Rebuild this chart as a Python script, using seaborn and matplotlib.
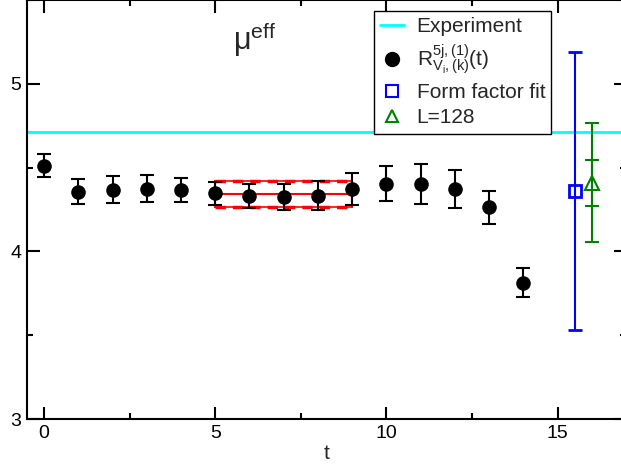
#!/usr/bin/env python3
"""
mu_eff plateau plot: ratio R(t) vs t with fit band and comparison points
"""

import numpy as np
import pandas as pd
import matplotlib
matplotlib.use('Agg')
import matplotlib.pyplot as plt
from matplotlib.ticker import MultipleLocator
from matplotlib.lines import Line2D
import seaborn as sns

# data
t_vals = [0, 1, 2, 3, 4, 5, 6, 7, 8, 9, 10, 11, 12, 13, 14]
r_vals = [4.512, 4.357, 4.369, 4.375, 4.367, 4.347, 4.331, 4.323, 4.333,
          4.371, 4.403, 4.400, 4.373, 4.262, 3.814]
r_errs = [0.070, 0.075, 0.080, 0.082, 0.073, 0.070, 0.070, 0.078, 0.088,
          0.095, 0.105, 0.120, 0.115, 0.100, 0.085]

fit_range = [5, 9]
fit_val = 4.341
fit_err = 0.077

experiment = 4.71

ff_t = 15.5
ff_val = 4.36
ff_err = 0.83

l128_t = 16.0
l128_val = 4.41
l128_err_outer = 0.354
l128_err_inner = 0.137

x_ticks = [0, 5, 10, 15]
y_ticks = [3, 4, 5]


def main():
    sns.set_theme(style='ticks')
    plt.rcParams['font.family'] = ['Liberation Sans', 'DejaVu Sans']
    plt.rcParams['mathtext.fontset'] = 'custom'
    plt.rcParams['mathtext.rm'] = 'Liberation Sans'
    plt.rcParams['mathtext.it'] = 'Liberation Sans:italic'

    fig = plt.figure(figsize=(6.21, 4.71), dpi=100)
    ax = fig.add_axes([27 / 621, 52 / 471, 599 / 621, 419 / 471])

    df = pd.DataFrame({'t': t_vals, 'R': r_vals, 'err': r_errs})

    # experiment line
    ax.axhline(experiment, color='cyan', lw=2, zorder=1)

    # fit band t=5..9
    x0, x1 = fit_range
    ax.plot([x0, x1], [fit_val, fit_val], color='red', lw=1.5, zorder=2)
    for yy in (fit_val - fit_err, fit_val + fit_err):
        ax.plot([x0, x1], [yy, yy], color='red', lw=1.2, zorder=2)
        ax.plot([x0, x1], [yy, yy], color='red', lw=2.5, ls=(0, (3, 2)), zorder=2)
    for xx in (x0, x1):
        ax.plot([xx, xx], [fit_val - fit_err, fit_val + fit_err], color='red', lw=1.5, zorder=2)

    # black data points
    ax.errorbar(df['t'], df['R'], yerr=df['err'], fmt='none', ecolor='black',
                elinewidth=1.5, capsize=5, capthick=1.5, zorder=3)
    sns.scatterplot(data=df, x='t', y='R', ax=ax, color='black', s=110,
                    edgecolor='black', linewidth=0, zorder=4, legend=False)

    # form factor fit
    ax.errorbar([ff_t], [ff_val], yerr=[ff_err], fmt='s', color='blue', mfc='none',
                mec='blue', ms=8, mew=2, elinewidth=1.5, capsize=5, capthick=1.5, zorder=4)

    # L=128
    ax.errorbar([l128_t], [l128_val], yerr=[l128_err_outer], fmt='none', ecolor='green',
                elinewidth=1.5, capsize=5, capthick=1.5, zorder=4)
    ax.errorbar([l128_t], [l128_val], yerr=[l128_err_inner], fmt='^', color='green', mfc='none',
                mec='green', ms=10, mew=1.5, elinewidth=1.5, capsize=5, capthick=1.5, zorder=4)

    ax.set_xlim(-0.5, 17)
    ax.set_ylim(3, 5.5)
    ax.set_xticks(x_ticks)
    ax.set_yticks(y_ticks)
    ax.xaxis.set_minor_locator(MultipleLocator(2.5))
    ax.yaxis.set_minor_locator(MultipleLocator(0.5))
    ax.tick_params(which='both', direction='in', top=True, right=True,
                   colors='black', labelsize=14, width=1.5)
    ax.tick_params(which='major', length=9, pad=4)
    ax.tick_params(which='minor', length=4.5)
    for sp in ax.spines.values():
        sp.set_visible(True)
        sp.set_color('black')
        sp.set_linewidth(1.5)

    ax.set_xlabel('t', fontsize=15, labelpad=2)
    ax.set_ylabel('')

    # panel label, placed in pixels from the top-left of the figure
    ax.text(233, 471 - 50, r'$\mathregular{μ^{eff}}$', transform=None, fontsize=22)

    handles = [
        Line2D([], [], color='cyan', lw=2),
        Line2D([], [], marker='o', color='black', ls='none', ms=10),
        Line2D([], [], marker='s', color='blue', mfc='none', ls='none', ms=8, mew=1.5),
        Line2D([], [], marker='^', color='green', mfc='none', ls='none', ms=9, mew=1.5),
    ]
    labels = ['Experiment',
              r'$\mathregular{R^{5j,(1)}_{V_i,(k)}(t)}$',
              'Form factor fit',
              'L=128']
    leg = ax.legend(handles, labels, loc='upper left', bbox_to_anchor=(0.579, 0.974),
                    fontsize=15, frameon=True, fancybox=False, framealpha=1,
                    edgecolor='black', borderpad=0.3, labelspacing=0.3,
                    handlelength=1.15, handletextpad=0.6, borderaxespad=0)
    leg.get_frame().set_linewidth(1.0)

    fig.savefig('out.png', dpi=100)
    plt.close(fig)


if __name__ == "__main__":
    main()
